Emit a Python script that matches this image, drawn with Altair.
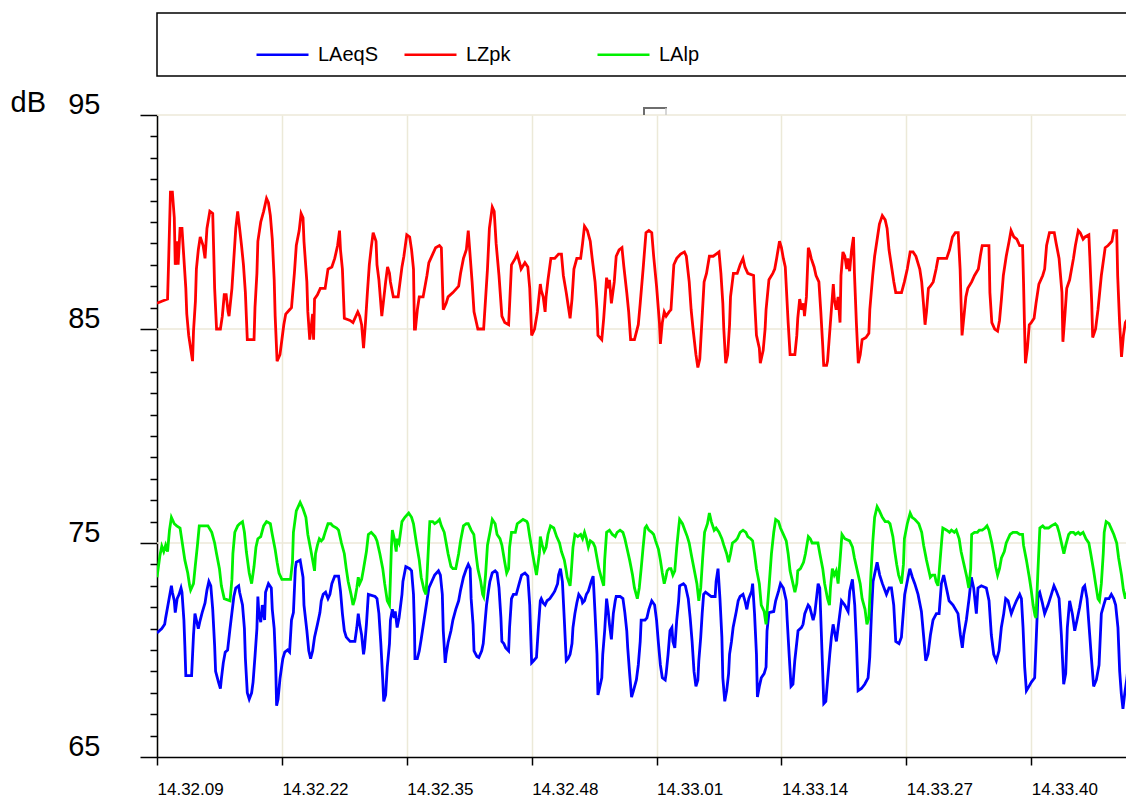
import altair as alt
import pandas as pd

SERIES = ["LAeqS", "LZpk", "LAlp"]
COLORS = ["#0000FF", "#FF0000", "#00F000"]
TICK_SECONDS = [0, 13, 26, 39, 52, 65, 78, 91]   # 14.32.09 + n*13 s
Y_TICKS = list(range(65, 96))
Y_GRID = [75, 85, 95]

# ---- LZpk (red) : seconds after 14:32:09, dB ----
lzpk_t = [0.0, 0.5, 1.1, 1.2, 1.3, 1.4, 1.6, 1.8, 1.9, 2.1, 2.2, 2.4, 2.6, 2.8, 3.0, 3.1, 3.3, 3.5, 3.7, 3.8,
          4.0, 4.1, 4.3, 4.5, 4.8, 5.0, 5.2, 5.5, 5.8, 5.9, 6.0, 6.2, 6.6, 6.8, 7.0, 7.2, 7.4, 7.5, 7.8, 8.0,
          8.2, 8.4, 8.6, 8.8, 9.0, 9.2, 9.4, 10.1, 10.2, 10.4, 10.5, 10.8, 11.1, 11.4, 11.6, 11.8, 12.0, 12.2,
          12.3, 12.5, 12.8, 13.0, 13.2, 13.4, 13.8, 14.0,
          14.3, 14.5, 14.8, 15.0, 15.2, 15.3, 15.6, 15.7, 15.9, 16.2, 16.3, 16.4, 16.7, 17.0, 17.5, 17.8, 18.2,
          18.5, 18.8, 19.0, 19.1, 19.3, 19.5, 20.1, 20.4, 20.9, 21.1, 21.3, 21.5, 21.7, 21.9, 22.1, 22.3, 22.5,
          22.8, 22.9, 23.1, 23.4, 23.6, 23.8, 24.0, 24.2, 24.3, 24.6, 25.1, 25.5, 25.7, 26.0, 26.3, 26.5, 26.7,
          26.8, 26.9, 27.1, 27.3, 27.7, 28.1, 28.3, 28.7, 29.0, 29.4, 29.6, 29.8, 30.1, 30.3, 30.8, 31.4, 31.6,
          31.9, 32.2, 32.4,
          32.6, 32.8, 33.0, 33.3, 33.4, 34.0, 34.2, 34.4, 34.6, 34.9, 35.1, 35.3, 35.6, 35.9, 36.2, 36.6, 36.7,
          36.9, 37.3, 37.5, 37.8, 37.9, 38.3, 38.6, 38.8, 38.9, 39.0, 39.3, 39.6, 39.9, 40.0, 40.2, 40.4, 40.5,
          40.7, 41.0, 41.4, 41.8, 42.1, 42.3, 42.6, 42.8, 43.0, 43.2, 43.4, 43.7, 44.1, 44.3, 44.5, 44.8, 45.1,
          45.3, 45.6, 45.8, 45.9, 46.3, 46.5, 46.8, 47.0, 47.1, 47.3, 47.6, 47.8, 48.1, 48.4, 48.6, 48.9, 49.1,
          49.3, 49.7, 50.1, 50.3, 50.6, 50.9, 51.2, 51.5, 51.7, 52.0, 52.3, 52.4, 52.6, 52.8, 53.0, 53.3, 53.5,
          53.8, 54.1, 54.5, 54.9, 55.1, 55.4, 55.6, 55.8, 56.1, 56.3, 56.5, 56.75, 56.95, 57.2, 57.5, 57.9, 58.2,
          58.5, 58.7, 58.9, 59.0, 59.2, 59.4, 59.6, 59.7, 60.0, 60.4, 60.7, 61.0, 61.2, 61.5, 62.1, 62.2, 62.4,
          62.7, 62.8, 63.1, 63.3, 63.4, 63.7, 64.1, 64.3, 64.5, 64.8, 65.0, 65.2, 65.4, 65.7, 65.9, 66.4,
          66.6, 66.7, 66.9, 67.1, 67.3, 67.4, 67.6, 67.8, 67.95, 68.1, 68.4, 68.6, 68.9, 69.1, 69.3, 69.4, 69.7,
          69.8, 70.0, 70.2, 70.4, 70.5, 70.7, 70.9, 71.1, 71.2, 71.4, 71.6, 71.8, 71.9, 72.1, 72.3, 72.5, 72.6,
          72.8, 73.0, 73.2, 73.4, 73.8, 74.1, 74.2, 74.5, 74.7, 75.0, 75.2, 75.5, 75.8, 76.0, 76.2, 76.5, 76.7,
          76.9, 77.5, 77.8, 78.1, 78.4, 78.7, 79.0, 79.4, 79.6, 79.8, 79.95, 80.1, 80.3, 80.5, 80.8, 81.1, 81.3,
          81.7, 82.2, 82.5, 82.8, 83.1, 83.4, 83.6, 83.7, 83.8, 84.0, 84.2, 84.4, 84.8, 85.1, 85.5, 85.7, 85.9,
          86.3, 86.6, 86.7, 86.9, 87.2, 87.5, 87.7, 87.9, 88.1, 88.4, 88.7, 88.9, 89.2, 89.5, 89.8, 90.1, 90.2,
          90.3, 90.4, 90.6, 90.8, 91.0, 91.3, 91.5, 91.8, 92.2, 92.4, 92.6, 92.9, 93.4, 93.6, 93.9, 94.2, 94.3,
          94.5, 94.7, 95.0, 95.2, 95.4, 95.6, 95.9, 96.1, 96.4, 96.6, 97.0, 97.1, 97.3, 97.4, 97.7, 97.95, 98.3,
          98.7, 99.0, 99.4, 99.6, 99.9, 100.0, 100.2, 100.4, 100.6, 100.8, 101.1, 101.4, 101.7]
lzpk_v = [86.2, 86.3, 86.4, 88.0, 89.7, 91.4, 91.4, 90.2, 88.0, 89.1, 88.0, 89.7, 89.7, 88.3, 86.9, 85.7, 84.7, 84.1, 83.5, 84.9,
          86.3, 87.8, 88.7, 89.3, 88.9, 88.3, 89.7, 90.5, 90.4, 88.7, 86.9, 85.0, 85.0, 85.6, 86.6, 86.6, 85.8, 85.6, 86.9, 88.3,
          89.7, 90.5, 89.7, 88.9, 88.0, 86.7, 84.5, 84.5, 86.0, 87.6, 89.1, 90.0, 90.5, 91.1, 90.9, 90.3, 89.2, 87.3,
          85.6, 83.5, 83.8, 84.5, 85.2, 85.7, 85.9, 86.0,
          87.6, 88.9, 89.6, 90.4, 90.2, 89.1, 87.2, 85.8, 84.5, 85.7, 84.5, 86.4, 86.6, 86.9, 86.9, 87.8, 87.9,
          88.3, 88.9, 89.6, 88.7, 87.8, 85.5, 85.4, 85.3, 85.8, 85.6, 85.2, 84.1, 85.3, 86.7, 88.0, 88.8, 89.5,
          89.1, 88.0, 87.3, 85.6, 86.4, 87.2, 87.9, 87.6, 87.2, 86.5, 86.5, 87.9, 88.4, 89.4, 89.3, 88.7, 87.8,
          85.0, 85.0, 85.9, 86.5, 86.5, 87.5, 88.1, 88.5, 88.8, 88.9, 88.8, 85.9, 86.2, 86.5, 86.7, 87.0, 87.6,
          88.3, 88.7, 89.6,
          88.4, 87.2, 85.8, 85.2, 85.0, 85.0, 86.4, 87.8, 89.7, 90.7, 90.5, 89.0, 87.5, 85.6, 85.3, 85.2, 86.1,
          88.0, 88.3, 88.5, 88.0, 87.8, 88.1, 87.9, 86.9, 85.8, 84.7, 85.0, 85.8, 87.1, 86.8, 86.5, 85.8, 86.5,
          87.3, 88.3, 88.3, 88.5, 88.5, 87.5, 86.7, 86.1, 85.5, 86.4, 87.8, 88.3, 88.3, 89.0, 89.8, 89.6, 89.1,
          88.3, 87.2, 85.9, 84.7, 84.5, 85.5, 87.4, 86.9, 87.3, 86.2, 87.2, 88.4, 88.7, 88.8, 87.9, 86.7, 85.8,
          84.5, 84.5, 85.2, 86.2, 87.8, 89.5, 89.6, 89.5, 88.4, 87.0, 85.3, 84.3, 85.3, 85.8, 85.6, 85.8, 85.9,
          88.0, 88.3, 88.5, 88.6, 88.4, 87.2, 85.9, 85.0, 83.8, 83.2, 83.6, 85.6, 87.2, 87.6, 88.4, 88.4, 88.5,
          88.6, 87.6, 86.2, 85.0, 83.4, 83.8, 85.2, 86.5, 87.6, 87.6, 88.0, 88.3, 87.9, 87.6, 87.5, 86.4, 84.7,
          84.1, 83.4, 84.0, 85.0, 85.9, 87.3, 87.6, 87.8, 88.3, 89.1, 88.8, 88.3, 87.9, 85.3, 83.8, 83.8,
          84.7, 85.5, 86.4, 85.9, 86.2, 85.6, 86.5, 88.8, 88.6, 88.3, 87.9, 87.5, 87.2, 85.8, 84.2, 83.3, 83.3,
          83.5, 84.7, 85.9, 87.1, 86.4, 85.9, 86.5, 85.3, 87.5, 88.6, 88.4, 87.8, 88.3, 87.7, 88.7, 89.3, 87.6,
          85.3, 83.4, 83.8, 84.5, 84.6, 84.8, 85.9, 87.5, 88.4, 89.3, 89.9, 90.3, 90.1, 89.7, 88.7, 87.8, 87.2,
          86.7, 86.7, 87.2, 87.8, 88.6, 88.6, 88.4, 87.8, 87.2, 86.1, 85.2, 85.8, 86.9, 87.0, 87.2, 87.8, 88.3,
          88.3, 88.3, 88.7, 89.3, 89.5, 89.5, 87.8, 86.2, 84.7, 85.6, 86.5, 86.9, 87.2, 87.5, 87.8, 88.4, 88.9,
          88.9, 88.9, 86.7, 85.3, 85.0, 84.9, 85.4, 86.4, 87.5, 88.4, 89.1, 89.6, 89.3, 89.2, 88.9, 88.9, 87.2,
          85.2, 83.4, 84.1, 85.2, 85.3, 85.5, 86.2, 87.1, 87.5, 87.8, 88.9, 89.5, 89.5, 89.0, 88.3, 86.7, 84.4,
          85.6, 86.9, 87.3, 87.8, 88.3, 88.9, 89.6, 89.5, 89.2, 89.3, 89.4, 88.4, 86.2, 84.6, 85.0, 85.9, 87.5,
          88.8, 88.9, 89.1, 89.6, 89.6, 87.5, 85.3, 83.7, 84.7, 85.3, 85.5, 85.9, 87.0]

# ---- LAlp (green) ----
lalp_t = [0.0, 0.3, 0.5, 0.7, 0.9, 1.1, 1.3, 1.5, 1.8, 2.05, 2.4, 2.6, 2.9, 3.2, 3.4, 3.5, 3.8, 4.0, 4.2, 4.4,
          5.3, 5.7, 6.0, 6.2, 6.5, 6.7, 7.0, 7.6, 7.8, 7.9, 8.1, 8.4, 8.6, 8.9, 9.1, 9.3, 9.6, 9.85, 10.1, 10.3,
          10.5, 10.8, 11.1, 11.4, 11.8, 12.0, 12.3, 12.5, 12.7, 13.0, 13.9, 14.1,
          14.2, 14.5, 14.9, 15.2, 15.5, 15.7, 16.0, 16.2, 16.4, 16.5, 16.7, 16.9, 17.1, 17.3, 17.5, 17.8, 18.1,
          18.3, 18.7, 18.9, 19.2, 19.5, 19.7, 19.9, 20.2, 20.4, 20.6, 20.8, 20.95, 21.1, 21.3, 21.5, 21.8, 22.0,
          22.3, 22.7, 22.9, 23.2, 23.5, 23.7, 23.97, 24.2, 24.3, 24.4, 24.5, 24.7, 24.9, 25.0, 25.2, 25.5, 25.8,
          26.2, 26.5, 26.7, 27.0, 27.3, 27.5, 27.8, 28.0, 28.1, 28.3, 28.4, 28.7, 28.9, 29.2, 29.4, 29.6, 29.9,
          30.1, 30.3, 30.6, 30.8, 31.1, 31.4, 31.6, 31.9, 32.2,
          32.4, 32.7, 32.98, 33.2, 33.4, 33.7, 33.9, 34.0, 34.2, 34.4, 34.7, 34.9, 35.2, 35.4, 35.7, 35.9, 36.2,
          36.4, 36.6, 36.7, 36.9, 37.3, 37.5, 37.8, 38.1, 38.5, 38.6, 38.8, 39.1, 39.3, 39.5, 39.8, 39.9, 40.1,
          40.3, 40.5, 40.7, 40.96, 41.3, 41.6, 41.9, 42.1, 42.4, 42.6, 42.7, 43.0, 43.1, 43.3, 43.5, 43.8, 44.1,
          44.3, 44.5, 44.7, 44.9, 45.1, 45.4, 45.6, 45.8, 46.0, 46.3, 46.5, 46.6, 46.8, 47.1, 47.4, 47.7, 47.9,
          48.2, 48.5, 48.7, 48.9, 49.2, 49.5, 49.7, 50.0, 50.2, 50.4, 50.6, 50.8, 50.96, 51.2, 51.5, 51.7, 51.9,
          52.2, 52.4, 52.6, 52.8, 52.97, 53.1, 53.3, 53.5, 53.7, 53.9, 54.1, 54.3, 54.4, 54.7, 54.95, 55.2, 55.4,
          55.6, 55.9, 56.2, 56.4, 56.6, 56.8, 57.0, 57.3, 57.5, 57.7, 58.0, 58.2, 58.5, 58.8, 59.0, 59.3, 59.5,
          59.7, 59.9, 60.2, 60.4, 60.7, 61.0, 61.3, 61.5, 61.8, 62.0, 62.2, 62.4, 62.7, 62.9, 63.2, 63.4, 63.5,
          63.7, 63.96, 64.2, 64.4, 64.7, 64.9, 65.2, 65.5, 65.7, 65.9, 66.2, 66.4, 66.6,
          66.7, 66.98, 67.3, 67.5, 67.8, 68.0, 68.2, 68.8, 69.0, 69.3, 69.5, 69.8, 70.0, 70.1, 70.3, 70.5, 70.7,
          70.9, 71.1, 71.3, 71.6, 72.1, 72.4, 72.6, 72.9, 73.2, 73.4, 73.7, 73.9, 74.1, 74.3, 74.5, 74.7, 74.96,
          75.2, 75.5, 75.8, 76.1, 76.3, 76.6, 76.8, 77.0, 77.2, 77.5, 77.7, 77.8, 78.1, 78.4, 78.6, 78.9, 79.1,
          79.3, 79.6, 79.8, 80.1, 80.4, 80.5, 80.7, 80.96, 81.1, 81.3, 81.5, 81.7, 81.8, 82.2, 82.5, 82.7, 83.0,
          83.2, 83.5, 83.7, 84.0, 84.3, 84.5, 84.7, 84.8, 85.1, 85.4, 85.6, 85.9, 86.2, 86.4, 86.6, 86.9, 87.1,
          87.3, 87.5, 87.7, 87.9, 88.2, 88.4, 88.8, 89.1, 89.5, 89.8, 90.1, 90.2, 90.5, 90.8, 91.0, 91.2, 91.4,
          91.5, 91.7, 91.9, 92.2, 92.4, 92.8, 93.1, 93.5, 93.7, 93.9, 94.2, 94.4, 94.6, 94.9, 95.1, 95.4, 95.6,
          95.9, 96.1, 96.4, 96.7, 97.0, 97.2, 97.5, 97.7, 97.95, 98.1, 98.3, 98.5, 98.6, 98.8, 99.1, 99.4, 99.6,
          99.9, 100.1, 100.4, 100.6, 100.8, 101.1, 101.3, 101.6]
lalp_v = [73.4, 74.4, 74.85, 74.6, 74.9, 74.6, 75.6, 76.2, 75.9, 75.8, 75.7, 75.1, 74.2, 73.6, 73.0, 72.8, 73.1, 74.0, 74.85, 75.8,
          75.8, 75.5, 75.0, 74.5, 73.8, 73.0, 72.4, 72.3, 73.3, 74.5, 75.5, 75.8, 75.9, 76.0, 75.5, 74.6, 73.6, 73.1, 73.9, 74.8,
          75.2, 75.3, 75.8, 76.0, 75.9, 75.4, 74.7, 74.1, 73.6, 73.3, 73.3, 74.1,
          75.5, 76.5, 76.9, 76.6, 76.2, 75.4, 74.7, 74.2, 73.7, 74.5, 74.9, 75.2, 75.1, 75.2, 75.5, 75.9, 75.9,
          75.8, 75.7, 75.6, 75.0, 74.5, 73.8, 73.2, 72.6, 72.1, 72.4, 72.9, 73.4, 73.1, 73.3, 73.8, 74.6, 75.4,
          75.5, 75.3, 75.1, 74.5, 73.8, 73.1, 72.3, 72.1, 73.4, 74.8, 75.6, 75.2, 74.6, 75.2, 75.0, 76.0, 76.2,
          76.4, 76.2, 75.9, 75.0, 74.2, 73.4, 72.8, 72.6, 73.4, 75.2, 76.0, 76.0, 75.9, 76.0, 76.1, 75.8, 75.5,
          75.0, 74.5, 73.9, 73.8, 73.8, 74.5, 75.1, 75.8, 75.9,
          75.9, 75.6, 75.4, 74.5, 73.8, 73.2, 72.6, 72.5, 73.5, 74.9, 75.6, 76.1, 75.9, 75.4, 75.2, 74.9, 74.1,
          73.6, 73.8, 74.8, 75.5, 75.5, 75.9, 76.0, 76.1, 76.0, 75.9, 75.3, 74.5, 74.0, 73.5, 74.5, 75.3, 74.9,
          74.6, 74.8, 75.4, 75.8, 75.7, 75.3, 75.0, 74.6, 74.2, 73.7, 73.4, 73.0, 73.5, 74.8, 75.4, 75.3, 75.4,
          75.2, 75.5, 75.2, 74.8, 75.1, 75.0, 74.8, 74.3, 73.8, 73.3, 73.0, 74.2, 75.5, 75.6, 75.4, 75.3, 75.5,
          75.6, 75.5, 75.2, 74.8, 74.2, 73.5, 72.9, 72.4, 72.9, 73.8, 74.8, 75.7, 75.8, 75.6, 75.5, 75.4, 75.1,
          74.7, 74.2, 73.6, 73.1, 73.4, 73.7, 73.8, 73.8, 73.5, 73.7, 74.8, 75.7, 76.1, 75.9, 75.6, 75.3, 75.0,
          74.5, 73.8, 73.1, 72.3, 72.9, 74.3, 75.5, 75.9, 76.4, 76.0, 75.6, 75.7, 75.5, 75.2, 74.9, 74.5, 74.1,
          74.5, 75.0, 75.1, 75.2, 75.5, 75.6, 75.5, 75.3, 75.2, 75.1, 74.5, 73.8, 73.1, 72.1, 71.8, 71.2, 71.8,
          72.9, 74.5, 75.5, 76.1, 76.0, 75.7, 75.4, 75.1, 74.5, 73.7, 73.1, 72.7, 73.1,
          73.7, 73.8, 74.1, 74.5, 75.3, 75.2, 75.0, 75.0, 74.5, 73.8, 73.1, 72.4, 72.1, 72.9, 73.8, 73.5, 73.7,
          73.1, 74.2, 75.4, 75.2, 75.1, 74.8, 74.3, 73.7, 73.1, 72.4, 71.9, 71.2, 71.5, 73.4, 75.0, 76.2, 76.7,
          76.5, 76.2, 76.0, 76.0, 75.9, 75.3, 74.6, 74.0, 73.5, 73.1, 74.0, 75.2, 75.9, 76.4, 76.2, 76.1, 76.0,
          75.9, 75.5, 74.9, 74.2, 73.6, 73.4, 73.5, 73.5, 73.2, 73.0, 74.1, 75.2, 75.7, 75.6, 75.5, 75.6, 75.5,
          75.6, 75.2, 74.6, 74.0, 73.4, 72.9, 73.8, 75.4, 75.5, 75.5, 75.6, 75.6, 75.7, 75.8, 75.6, 75.0, 74.5,
          73.9, 73.5, 73.8, 74.3, 74.6, 75.0, 75.4, 75.5, 75.5, 75.4, 75.4, 74.9, 74.2, 73.4, 72.8, 72.1, 71.6,
          71.5, 73.7, 75.7, 75.8, 75.7, 75.7, 75.8, 75.9, 75.8, 75.5, 74.9, 74.5, 74.9, 75.4, 75.5, 75.5, 75.4,
          75.5, 75.4, 75.5, 75.2, 75.0, 74.5, 73.7, 73.1, 72.4, 72.3, 73.1, 74.5, 75.5, 76.0, 75.9, 75.6, 75.4,
          75.0, 74.3, 73.5, 72.8, 72.4, 72.9, 73.8, 75.4]

# ---- LAeqS (blue) ----
laeq_t = [0.0, 0.5, 0.8, 0.9, 1.1, 1.3, 1.5, 1.6, 1.8, 1.9, 2.1, 2.3, 2.5, 2.6, 2.8, 2.9, 3.0, 3.6, 3.8, 3.95,
          4.1, 4.3, 4.5, 4.7, 5.0, 5.2, 5.4, 5.6, 5.8, 6.0, 6.1, 6.4, 6.6, 6.7, 6.9, 7.1, 7.35, 7.6, 7.8, 8.0,
          8.2, 8.5, 8.6, 8.9, 9.1, 9.2, 9.4, 9.6, 9.85, 10.0, 10.2, 10.4, 10.5, 10.6, 10.8, 10.96, 11.2, 11.3,
          11.6, 11.9, 12.0, 12.2, 12.35, 12.45, 12.6, 12.8, 13.0, 13.1, 13.3, 13.6, 13.8, 14.0, 14.2,
          14.4, 14.5, 14.9, 15.2, 15.3, 15.6, 15.8, 15.99, 16.2, 16.4, 16.7, 16.96, 17.1, 17.3, 17.55, 17.8,
          18.0, 18.2, 18.5, 18.9, 19.1, 19.3, 19.5, 19.7, 20.1, 20.6, 20.8, 20.95, 21.1, 21.3, 21.5, 21.6, 21.8,
          22.0, 22.7, 22.9, 23.1, 23.3, 23.5, 23.6, 23.8, 23.97, 24.2, 24.3, 24.5, 24.7, 24.8, 25.0, 25.2, 25.5,
          25.6, 25.9, 26.3, 26.5, 26.7, 26.8, 26.85, 27.1, 27.3, 27.5, 27.8, 28.1, 28.3, 28.6, 28.9, 29.3, 29.5,
          29.7, 29.8, 30.0, 30.1, 30.3, 30.6, 30.8, 31.1, 31.4, 31.6, 31.9, 32.2, 32.4,
          32.6, 32.7, 32.9, 33.0, 33.3, 33.5, 33.8, 33.96, 34.1, 34.3, 34.5, 34.65, 34.9, 35.2, 35.4, 35.6, 35.8,
          35.9, 36.1, 36.3, 36.6, 36.7, 36.9, 37.1, 37.4, 37.7, 37.95, 38.3, 38.6, 38.8, 38.9, 39.0, 39.2, 39.5,
          39.7, 39.9, 40.0, 40.2, 40.4, 40.6, 40.9, 41.2, 41.4, 41.7, 41.8, 42.0, 42.2, 42.4, 42.6, 42.8, 43.0,
          43.2, 43.3, 43.5, 43.7, 43.9, 44.2, 44.3, 44.5, 44.7, 44.9, 45.2, 45.4, 45.6, 45.8, 45.9, 46.1, 46.3,
          46.4, 46.6, 46.8, 46.97, 47.1, 47.3, 47.5, 47.7, 47.8, 48.2, 48.5, 48.7, 48.9, 49.0, 49.2, 49.4, 49.6,
          49.9, 50.1, 50.3, 50.4, 50.8, 51.0, 51.2, 51.5, 51.8, 52.0, 52.2, 52.4, 52.6, 52.9, 53.0, 53.2, 53.4,
          53.6, 53.7, 53.9, 54.1, 54.3, 54.4, 54.8, 55.0, 55.3, 55.5, 55.7, 55.9, 56.1, 56.3, 56.4, 56.6, 56.75,
          56.9, 57.1, 57.4, 57.7, 58.1, 58.2, 58.4, 58.6, 58.8, 58.9, 59.1, 59.3, 59.5, 59.6, 59.8, 59.97, 60.3,
          60.5, 60.7, 61.0, 61.2, 61.4, 61.6, 61.9, 62.0, 62.2, 62.4, 62.5, 62.7, 62.9, 63.2, 63.4, 63.5, 63.7,
          64.2, 64.4, 64.7, 64.9, 65.2, 65.5, 65.6, 65.8, 66.0, 66.2,
          66.39, 66.73, 67.08, 67.25, 67.43, 67.78, 67.95, 68.30, 68.47, 68.82, 68.99, 69.27, 69.41, 69.62, 69.75,
          70.03, 70.20, 70.38, 70.72, 70.90, 71.25, 71.59, 71.94, 72.11, 72.39, 72.63, 72.81, 72.98, 73.33, 73.67,
          74.02, 74.19, 74.37, 74.54, 74.96, 75.23, 75.51, 75.93, 76.20, 76.45, 76.69, 76.90, 77.24, 77.49, 77.83,
          78.36, 78.63, 78.88, 79.22, 79.57, 79.81, 80.02, 80.26, 80.51, 80.78, 81.13, 81.41, 81.65, 81.89, 82.17,
          82.45, 82.86, 83.38, 83.63, 83.83, 83.97, 84.25, 84.53, 84.77, 85.01, 85.29, 85.46, 85.81, 86.33, 86.61,
          86.85, 87.10, 87.37, 87.65, 87.89, 88.14, 88.34, 88.59, 88.93, 89.18, 89.46, 89.80, 89.98, 90.15, 90.32,
          90.50, 90.77, 91.02, 91.36, 91.54, 91.71, 91.88, 92.16, 92.40, 92.75, 93.10, 93.37, 93.62, 93.90, 94.14,
          94.38, 94.59, 94.76, 95.00, 95.28, 95.53, 95.77, 96.04, 96.39, 96.57, 96.81, 97.09, 97.26, 97.50, 97.78,
          98.06, 98.30, 98.55, 98.75, 99.10, 99.34, 99.58, 99.79, 100.03, 100.21, 100.38, 100.55, 100.73, 100.97,
          101.18, 101.32, 101.66]
laeq_v = [70.8, 71.0, 71.2, 71.5, 72.0, 72.5, 73.0, 72.7, 72.3, 71.75, 72.4, 72.6, 72.9, 72.7, 71.4, 70.2, 68.8, 68.8, 70.7, 71.7,
          71.4, 71.0, 71.4, 71.75, 72.2, 72.8, 73.2, 73.0, 71.9, 70.2, 69.0, 68.5, 68.2, 68.65, 69.4, 69.9, 70.0, 71.0, 71.75, 72.5,
          72.9, 73.0, 72.7, 72.1, 71.0, 69.6, 68.0, 67.7, 68.0, 68.5, 69.7, 71.0, 72.5, 71.75, 71.3, 72.1, 71.4, 72.7,
          73.1, 72.9, 71.9, 71.0, 69.4, 67.4, 67.7, 68.65, 69.3, 69.6, 69.9, 70.0, 69.9, 71.4, 71.75,
          73.8, 74.1, 74.2, 73.4, 72.1, 70.9, 69.96, 69.6, 69.96, 70.6, 71.2, 71.75, 72.3, 72.6, 72.7, 72.4,
          72.6, 73.1, 73.45, 73.45, 72.75, 71.7, 70.9, 70.6, 70.4, 70.4, 71.05, 71.7, 71.2, 70.7, 69.8, 70.1, 71.2,
          72.6, 72.5, 72.4, 71.7, 70.3, 68.6, 67.6, 67.9, 69.2, 70.3, 71.4, 71.9, 71.5, 71.8, 71.05, 71.5, 72.6,
          73.2, 73.9, 73.8, 73.7, 72.6, 71.05, 69.6, 69.6, 69.96, 70.5, 71.4, 72.3, 72.9, 73.2, 73.5, 73.7, 73.5,
          72.6, 70.9, 69.4, 69.8, 70.35, 70.9, 71.4, 71.9, 72.3, 72.8, 73.4, 73.8, 74.0,
          73.8, 72.4, 71.2, 69.96, 69.7, 69.65, 69.96, 70.3, 71.05, 72.1, 72.75, 73.2, 73.6, 73.7, 73.6, 72.9, 71.5,
          70.4, 70.3, 70.1, 69.96, 71.05, 72.4, 72.6, 72.6, 73.1, 73.5, 73.6, 73.45, 72.1, 70.7, 69.4, 69.5, 69.65,
          71.05, 72.3, 72.4, 72.2, 72.1, 72.3, 72.4, 72.6, 72.75, 73.1, 73.5, 73.8, 73.2, 71.4, 69.5, 69.6, 69.8,
          70.3, 71.05, 71.7, 72.2, 72.6, 72.4, 72.2, 72.3, 72.6, 72.75, 73.2, 73.45, 71.7, 69.8, 67.9, 68.3, 68.7,
          69.8, 70.9, 72.4, 71.8, 71.2, 70.5, 71.7, 72.3, 72.5, 72.5, 72.4, 71.75, 70.9, 70.1, 68.9, 67.8, 68.1,
          68.6, 69.3, 70.4, 71.4, 71.4, 71.5, 71.9, 72.3, 72.1, 71.4, 70.3, 69.3, 68.7, 68.6, 68.9, 69.8, 70.9,
          71.05, 70.4, 70.1, 71.4, 72.3, 73.0, 73.1, 73.0, 72.4, 71.5, 70.4, 69.0, 68.3, 68.6, 69.5, 70.6, 71.7,
          72.6, 72.7, 72.6, 72.5, 72.5, 73.2, 73.8, 72.4, 70.6, 68.7, 67.6, 68.1, 68.9, 69.8, 70.4, 71.05, 71.8,
          72.3, 72.5, 72.6, 72.3, 71.9, 72.4, 72.75, 73.1, 71.7, 69.8, 67.8, 68.3, 68.7, 68.9, 69.2, 70.9, 71.75,
          71.8, 72.3, 72.75, 73.1, 72.9, 72.3, 71.4, 69.8, 68.3, 68.4,
          69.5, 70.9, 71.05, 71.2, 71.7, 72.1, 72.0, 71.4, 71.7, 73.1, 72.9, 69.3, 67.5, 67.6, 68.3,
          69.8, 70.6, 71.2, 70.4, 71.05, 72.3, 72.1, 71.8, 72.75, 73.3, 72.1, 70.3, 68.1, 68.2, 68.4,
          68.7, 69.65, 71.7, 73.2, 74.1, 73.5, 73.1, 72.6, 72.9, 72.9, 72.1, 70.4, 70.3, 70.6, 72.6,
          73.8, 73.4, 73.1, 72.6, 71.8, 70.6, 69.5, 69.8, 70.7, 71.4, 71.7, 71.7, 73.1, 73.5, 72.9,
          72.3, 72.1, 71.7, 70.7, 70.1, 70.7, 71.4, 72.4, 73.4, 72.9, 71.7, 72.9, 73.0, 72.9, 72.3,
          70.7, 69.8, 69.5, 69.96, 71.05, 71.7, 72.4, 72.3, 71.7, 72.0, 72.3, 72.6, 72.4, 71.05, 69.2,
          68.1, 68.3, 68.5, 68.7, 70.7, 72.6, 72.7, 72.2, 71.7, 72.1, 72.6, 73.0, 72.75, 72.4, 70.7,
          68.4, 68.9, 71.05, 72.3, 71.7, 70.9, 71.4, 72.0, 72.9, 73.0, 72.4, 70.7, 69.65, 68.3, 68.6,
          69.3, 71.7, 72.1, 72.4, 72.4, 72.6, 72.4, 72.1, 71.05, 69.0, 67.95, 67.25, 67.95, 68.7,
          69.8, 70.9, 70.9]

rows = []
for name, ts, vs in [("LAeqS", laeq_t, laeq_v), ("LZpk", lzpk_t, lzpk_v), ("LAlp", lalp_t, lalp_v)]:
    for t, v in zip(ts, vs):
        rows.append({"series": name, "t": t, "db": v})
df = pd.DataFrame(rows)

FONT = "Liberation Sans, Arial, sans-serif"
PX_PER_S = 977 / 101.7
W, H = 969, 642
major = "datum.value % 10 == 5"

x_scale = alt.Scale(domain=[0, W / PX_PER_S], nice=False, zero=False)
y_scale = alt.Scale(domain=[65, 95], nice=False, zero=False)

x_axis = alt.Axis(
    values=TICK_SECONDS, title=None,
    labelExpr="timeFormat(datetime(2000, 0, 1, 14, 32, 9 + datum.value), '%H.%M.%S')",
    labelFont=FONT, labelFontSize=17, labelColor="black", labelAlign="left",
    labelBaseline="alphabetic", labelPadding=29, labelFlush=False, labelOverlap=False,
    tickSize=8, tickColor="black", tickWidth=1.5,
    domainColor="black", domainWidth=1.5,
    grid=True, gridColor="#ECE9D8", gridWidth=1.5,
)
y_axis = alt.Axis(
    values=Y_TICKS, title="dB", titleAngle=0, titleAlign="left", titleBaseline="alphabetic",
    titleX=-147, titleY=-4, titleFont=FONT, titleFontSize=29, titleFontWeight="normal", titleColor="black",
    labelExpr=major + " ? datum.label : ''",
    labelFont=FONT, labelFontSize=29, labelColor="black", labelAlign="right",
    labelBaseline="alphabetic", labelOffset=-2, labelPadding=40, labelFlush=False, labelOverlap=False,
    tickSize={"condition": {"test": major, "value": 17}, "value": 7},
    tickColor="black", tickWidth=1.5, domainColor="black", domainWidth=1.5, grid=False,
)

# trailing no-break spaces (kept by a zero-width space) widen the LZpk entry like the original legend
pad = "\u00a0" * 11 + "\u200b"
legend = alt.Legend(
    title=None, orient="none", legendX=98, legendY=-88, direction="horizontal",
    symbolType="stroke", symbolSize=2704, symbolStrokeWidth=2.5,
    labelFont=FONT, labelFontSize=20, labelColor="black", labelOffset=8,
    columnPadding=20, padding=0,
    labelExpr="datum.label == 'LZpk' ? 'LZpk" + pad + "' : datum.label",
)

grid_df = pd.DataFrame({"db": Y_GRID})
hgrid = alt.Chart(grid_df).mark_rule(color="#ECE9D8", strokeWidth=1.5).encode(
    y=alt.Y("db:Q", scale=y_scale, axis=y_axis)
)

lines = alt.Chart(df).mark_line(strokeWidth=2.8, clip=True).encode(
    x=alt.X("t:Q", scale=x_scale, axis=x_axis),
    y=alt.Y("db:Q", scale=y_scale, axis=y_axis),
    color=alt.Color("series:N", scale=alt.Scale(domain=SERIES, range=COLORS), legend=legend, sort=SERIES),
    detail="series:N",
)

one = pd.DataFrame({"k": [0]})
legend_box = alt.Chart(one).mark_rect(fillOpacity=0, stroke="black", strokeWidth=1.5).encode(
    x=alt.value(0), x2=alt.value(1000), y=alt.value(-102), y2=alt.value(-39)
)
marker_top = alt.Chart(one).mark_rule(color="#6E6E6E", strokeWidth=2).encode(
    x=alt.value(486), x2=alt.value(510), y=alt.value(-7)
)
marker_left = alt.Chart(one).mark_rule(color="#6E6E6E", strokeWidth=2).encode(
    x=alt.value(487), y=alt.value(-7), y2=alt.value(0)
)
marker_right = alt.Chart(one).mark_rule(color="#C8C8C8", strokeWidth=1.5).encode(
    x=alt.value(509), y=alt.value(-7), y2=alt.value(0)
)

chart = alt.layer(hgrid, lines, legend_box, marker_top, marker_left, marker_right).properties(
    width=W, height=H,
    autosize=alt.AutoSizeParams(type="none"),
    padding={"left": 149, "top": 107, "right": 0, "bottom": 48},
    background="white",
).configure_view(stroke=None)

chart.save("out.html", embed_options={"renderer": "svg", "actions": False})
